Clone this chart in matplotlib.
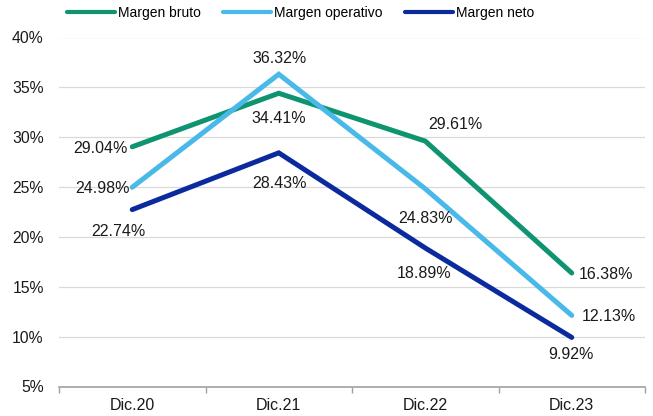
import matplotlib
matplotlib.use("Agg")
import matplotlib.pyplot as plt
from matplotlib.ticker import FixedLocator

plt.rcParams['font.family'] = ['Liberation Sans', 'DejaVu Sans']

categories = ["Dic.20", "Dic.21", "Dic.22", "Dic.23"]
margen_bruto = [29.04, 34.41, 29.61, 16.38]
margen_operativo = [24.98, 36.32, 24.83, 12.13]
margen_neto = [22.74, 28.43, 18.89, 9.92]
yticks = [5, 10, 15, 20, 25, 30, 35, 40]

colors = {"bruto": "#0e9470", "operativo": "#48b9e8", "neto": "#0b2a9e"}

W, H = 653, 416
fig = plt.figure(figsize=(W/100, H/100), dpi=100)
L, R, T, B = 59, 645, 37.5, 386.5
ax = fig.add_axes([L/W, 1-B/H, (R-L)/W, (B-T)/H])

x = list(range(len(categories)))
lw = 3.6
ax.plot(x, margen_bruto, color=colors["bruto"], lw=lw, solid_capstyle='round',
        solid_joinstyle='miter', label="Margen bruto", zorder=3)
ax.plot(x, margen_operativo, color=colors["operativo"], lw=lw, solid_capstyle='round',
        solid_joinstyle='miter', label="Margen operativo", zorder=3)
ax.plot(x, margen_neto, color=colors["neto"], lw=lw, solid_capstyle='round',
        solid_joinstyle='miter', label="Margen neto", zorder=3)

ax.set_xlim(-0.5, 3.5)
ax.set_ylim(5, 40)
ax.set_yticks(yticks)
ax.set_yticklabels([f"{v}%" for v in yticks], fontsize=11.3, color="#1a1a1a")
ax.yaxis.grid(True, color="#d9d9d9", lw=0.9)
ax.set_axisbelow(True)
ax.set_xticks(x)
ax.set_xticklabels(categories, fontsize=11.5, color="#1a1a1a")
ax.tick_params(axis='x', length=0, pad=8)
ax.xaxis.set_minor_locator(FixedLocator([-0.5, 0.5, 1.5, 2.5, 3.5]))
ax.tick_params(axis='x', which='minor', length=4, width=1, color='#a0a0a0')
ax.tick_params(axis='y', length=0, pad=11)
for s in ['top', 'right', 'left']:
    ax.spines[s].set_visible(False)
ax.spines['bottom'].set_color('#a0a0a0')
ax.spines['bottom'].set_linewidth(1.2)
ax.spines['bottom'].set_zorder(2)

fs = 11.5
def lab(xi, yv, dx_px, dy_px):
    ax.annotate(f"{yv:.2f}%", (xi, yv),
                xytext=(dx_px*0.72, (dy_px - 1.5)*0.72), textcoords="offset points",
                ha="center", va="center", fontsize=fs, color="#1a1a1a", zorder=4)

# Margen bruto
lab(0, margen_bruto[0], -32, 0)
lab(1, margen_bruto[1], 0, -23.4)
lab(2, margen_bruto[2], 30, 18.3)
lab(3, margen_bruto[3], 34, 0)
# Margen operativo
lab(0, margen_operativo[0], -29.5, 0)
lab(1, margen_operativo[1], 0.5, 17.6)
lab(2, margen_operativo[2], 0.5, -28.2)
lab(3, margen_operativo[3], 37, 0)
# Margen neto
lab(0, margen_neto[0], -13.5, -20.4)
lab(1, margen_neto[1], 1, -29)
lab(2, margen_neto[2], -1.5, -24)
lab(3, margen_neto[3], -1, -16)

leg = fig.legend(loc="upper left", bbox_to_anchor=(67/W, 1-6/H), ncol=3, frameon=False,
                 fontsize=10, handlelength=3.45, columnspacing=1.6, handletextpad=0.22,
                 borderpad=0, borderaxespad=0)
for h in leg.get_lines():
    h.set_linewidth(3.0)

fig.savefig("out.png", dpi=100)
